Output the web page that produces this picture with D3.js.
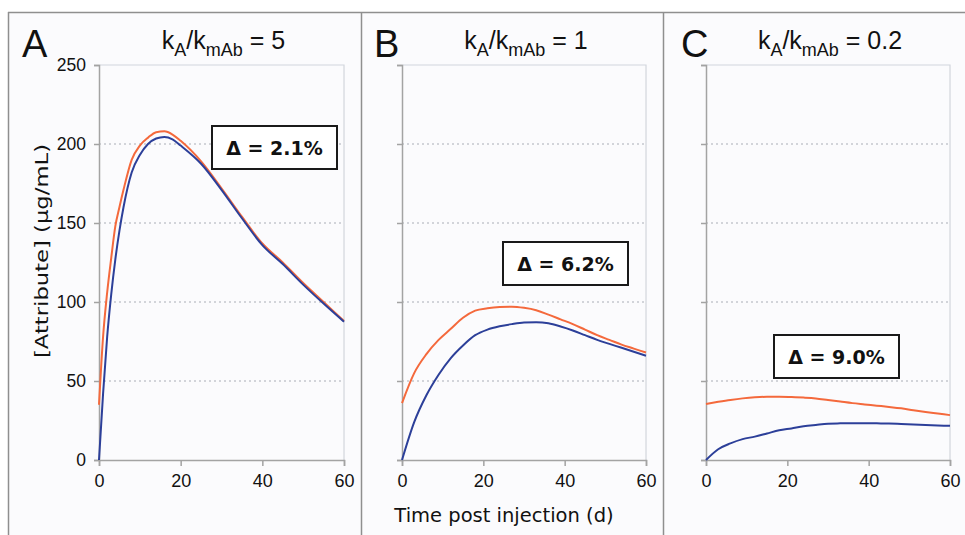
<!DOCTYPE html>
<html>
<head>
<meta charset="utf-8">
<script src="https://cdn.jsdelivr.net/npm/d3@7"></script>
<style>
  body { margin: 0; background: #ffffff; }
  svg { display: block; font-family: "Liberation Sans", Arial, sans-serif; }
</style>
</head>
<body>
<svg id="chart" width="965" height="535"></svg>
<script>

//////////////////////////////////////////////////////////////////////////
//  DATA  -- values
//////////////////////////////////////////////////////////////////////////

var panelLetters = ["A", "B", "C"];
var ratioValues  = ["5", "1", "0.2"];           // kA/kmAb for each panel
var deltaLabels  = ["\u0394 = 2.1%", "\u0394 = 6.2%", "\u0394 = 9.0%"];

var xTicks = [0, 20, 40, 60];
var yTicks = [0, 50, 100, 150, 200, 250];
var yGrid  = [50, 100, 150, 200];

// panel A (fast), denser sampling early on
var timeA   = [0, 1, 2, 3, 4, 5, 6, 8, 10, 12, 14, 16, 18, 20, 25, 30, 35, 40, 45, 50, 55, 60];
var orangeA = [35, 78, 106, 128, 148, 160, 171, 190, 199, 204, 207.5, 208, 206, 202, 189, 172, 154, 137, 125, 112, 100, 88];
var blueA   = [0, 42, 78, 105, 127, 145, 160, 182, 193, 200, 203.5, 204.5, 203, 199, 187.5, 171, 153, 136, 124, 111, 99, 87.5];

// panels B and C share one time grid
var timeBC  = [0, 3, 6, 9, 12, 15, 18, 21, 24, 27, 30, 33, 36, 39, 42, 45, 48, 51, 54, 57, 60];
var orangeB = [36, 55, 67, 76, 83, 90, 94.5, 96, 96.8, 97, 96.3, 94.8, 92, 89, 86, 82.5, 79, 76, 73, 70.5, 68];
var blueB   = [0, 24, 41, 54, 64.5, 72.5, 79, 82.5, 84.6, 86, 87, 87.2, 86.5, 84.5, 82, 79, 76, 73.5, 71, 68.5, 66];
var orangeC = [35.5, 36.8, 38, 39, 39.7, 40, 40, 39.8, 39.5, 39, 38, 37, 36, 35.2, 34.4, 33.6, 32.7, 31.5, 30.4, 29.4, 28.4];
var blueC   = [0, 6.8, 10.5, 13.2, 14.8, 16.8, 18.8, 20, 21.3, 22.2, 23, 23.2, 23.3, 23.3, 23.2, 23.1, 22.8, 22.5, 22.2, 21.9, 21.6];

var orangeColor = "#f4693c";
var blueColor   = "#2c3f99";
var wideFont    = "DejaVu Sans, Verdana, sans-serif";

// layout for each panel (plot box + delta box)
var panels = [
	{ letter: panelLetters[0], ratio: ratioValues[0], delta: deltaLabels[0],
	  time: timeA, orange: orangeA, blue: blueA,
	  x0: 99, x1: 344, letterX: 22, box: [212, 126], yLabels: true },
	{ letter: panelLetters[1], ratio: ratioValues[1], delta: deltaLabels[1],
	  time: timeBC, orange: orangeB, blue: blueB,
	  x0: 402, x1: 646, letterX: 374, box: [503, 242], yLabels: false },
	{ letter: panelLetters[2], ratio: ratioValues[2], delta: deltaLabels[2],
	  time: timeBC, orange: orangeC, blue: blueC,
	  x0: 706, x1: 950, letterX: 681, box: [774, 335], yLabels: false }
];

var plotTop = 65, plotBottom = 460;
var boxW = 125, boxH = 43;

var svg = d3.select("#chart");

// panel background and outer frame
svg.append("rect").attr("x", 8).attr("y", 12).attr("width", 957).attr("height", 523)
	.attr("fill", "#fbfbfd");

var frame = svg.append("g").attr("stroke", "#8f8f8f").attr("stroke-width", 1.5).attr("fill", "none");
frame.append("line").attr("x1", 8).attr("x2", 965).attr("y1", 12.5).attr("y2", 12.5);
frame.append("line").attr("x1", 8.5).attr("x2", 8.5).attr("y1", 12).attr("y2", 535);
frame.append("line").attr("x1", 361.5).attr("x2", 361.5).attr("y1", 12).attr("y2", 535);
frame.append("line").attr("x1", 663.5).attr("x2", 663.5).attr("y1", 12).attr("y2", 535);


// draws one panel: frame, grid, axes, curves, title, delta box
function drawPanel(p) {
	var g = svg.append("g");

	var x = d3.scaleLinear().domain([0, 60]).range([p.x0, p.x1]);
	var y = d3.scaleLinear().domain([0, 250]).range([plotBottom, plotTop]);

	// light top/right border of the plot area
	g.append("path")
		.attr("d", "M" + x(0) + "," + y(250) + "H" + x(60) + "V" + y(0))
		.attr("fill", "none").attr("stroke", "#d2d6dd").attr("stroke-width", 1.2);

	// dotted gridlines
	g.selectAll(".grid").data(yGrid).enter().append("line")
		.attr("class", "grid")
		.attr("x1", x(0)).attr("x2", x(60))
		.attr("y1", function(d) { return y(d); })
		.attr("y2", function(d) { return y(d); })
		.attr("stroke", "#a9adb6").attr("stroke-width", 1)
		.attr("stroke-dasharray", "2,3");

	// axes
	var yAxis = d3.axisLeft(y).tickValues(yTicks).tickSize(5).tickPadding(8);
	if (!p.yLabels) yAxis.tickFormat("");
	var ya = g.append("g").attr("transform", "translate(" + x(0) + ",0)").call(yAxis);

	var xAxis = d3.axisBottom(x).tickValues(xTicks).tickSize(6).tickPadding(8);
	var xa = g.append("g").attr("transform", "translate(0," + y(0) + ")").call(xAxis);

	[ya, xa].forEach(function(a) {
		a.select(".domain").attr("stroke", "#a3a3a3").attr("stroke-width", 1.5);
		a.selectAll(".tick line").attr("stroke", "#a3a3a3").attr("stroke-width", 1.5);
		a.selectAll(".tick text").attr("fill", "#111").attr("font-size", 17.5)
			.attr("font-family", "Liberation Sans, Arial, sans-serif");
	});
	xa.selectAll(".tick text").attr("font-size", 18);

	// curves
	var pts = function(vals) {
		return vals.map(function(v, i) { return [p.time[i], v]; });
	};
	var line = d3.line()
		.x(function(d) { return x(d[0]); })
		.y(function(d) { return y(d[1]); })
		.curve(d3.curveMonotoneX);

	g.append("path").datum(pts(p.orange)).attr("d", line)
		.attr("fill", "none").attr("stroke", orangeColor).attr("stroke-width", 2);
	g.append("path").datum(pts(p.blue)).attr("d", line)
		.attr("fill", "none").attr("stroke", blueColor).attr("stroke-width", 2);

	// panel letter
	g.append("text").attr("x", p.letterX).attr("y", 57)
		.attr("font-size", 38).attr("fill", "#111").text(p.letter);

	// title  kA/kmAb = n
	var t = g.append("text")
		.attr("x", (p.x0 + p.x1) / 2 + 2).attr("y", 49)
		.attr("text-anchor", "middle").attr("font-size", 25).attr("fill", "#111");
	t.append("tspan").text("k");
	t.append("tspan").attr("font-size", 18).attr("dy", 7).text("A");
	t.append("tspan").attr("dy", -7).text("/k");
	t.append("tspan").attr("font-size", 18).attr("dy", 7).text("mAb");
	t.append("tspan").attr("dy", -7).text(" = " + p.ratio);

	// delta box
	g.append("rect").attr("x", p.box[0]).attr("y", p.box[1])
		.attr("width", boxW).attr("height", boxH)
		.attr("fill", "#ffffff").attr("stroke", "#1a1a1a").attr("stroke-width", 2);
	g.append("text").attr("x", p.box[0] + boxW / 2).attr("y", p.box[1] + 29)
		.attr("text-anchor", "middle").attr("font-size", 19).attr("font-weight", "bold")
		.attr("font-family", wideFont).attr("fill", "#111").text(p.delta);
}

panels.forEach(drawPanel);

// shared axis labels
svg.append("text")
	.attr("transform", "translate(48,251) rotate(-90)")
	.attr("text-anchor", "middle").attr("font-size", 18).attr("fill", "#111")
	.attr("font-family", wideFont)
	.attr("textLength", 214).attr("lengthAdjust", "spacingAndGlyphs")
	.text("[Attribute] (\u03bcg/mL)");

svg.append("text")
	.attr("x", 504).attr("y", 522)
	.attr("text-anchor", "middle").attr("font-size", 19.5).attr("fill", "#111")
	.attr("font-family", wideFont)
	.text("Time post injection (d)");

</script>
</body>
</html>
